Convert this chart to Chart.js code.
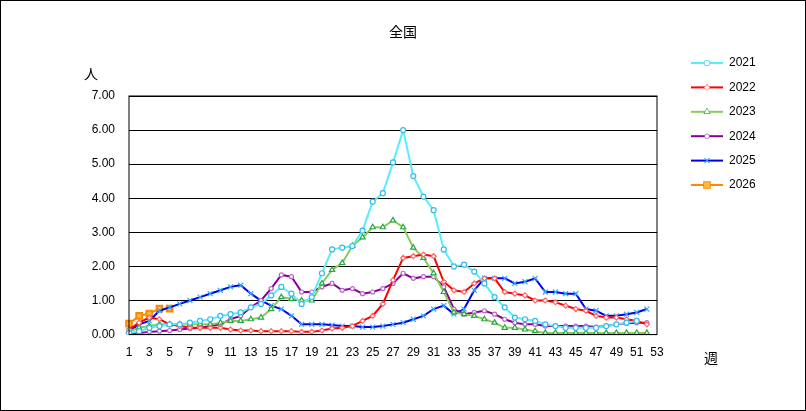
<!DOCTYPE html>
<html><head><meta charset="utf-8">
<script src="https://cdn.jsdelivr.net/npm/chart.js@4"></script>
<style>body{margin:0;background:#fff}#w{width:804px;height:409px;border:1px solid #000;position:relative}</style>
</head><body><div id="w"><canvas id="c" width="804" height="409"></canvas></div>
<script>
const weeks = Array.from({length:53},(_,i)=>String(i+1));
const s2021 = [0.05,0.1,0.2,0.25,0.3,0.3,0.35,0.4,0.45,0.55,0.6,0.65,0.8,0.9,1.15,1.4,1.2,0.9,1.1,1.8,2.5,2.55,2.6,3.05,3.9,4.15,5.05,6.0,4.65,4.05,3.65,2.5,2.0,2.05,1.85,1.5,1.1,0.8,0.5,0.45,0.4,0.3,0.25,0.2,0.2,0.2,0.2,0.25,0.3,0.35,0.4];
const s2022 = [0.15,0.35,0.5,0.45,0.3,0.25,0.2,0.2,0.2,0.2,0.15,0.12,0.12,0.1,0.1,0.1,0.1,0.08,0.08,0.12,0.18,0.2,0.25,0.4,0.55,0.9,1.6,2.25,2.3,2.35,2.3,1.55,1.3,1.25,1.5,1.65,1.65,1.25,1.2,1.15,1.0,1.0,0.95,0.85,0.75,0.7,0.55,0.5,0.5,0.45,0.4,0.3];
const s2023 = [0.1,0.2,0.25,0.3,0.3,0.3,0.3,0.3,0.3,0.35,0.4,0.4,0.45,0.5,0.75,1.1,1.05,1.0,1.0,1.5,1.9,2.1,2.6,2.85,3.15,3.15,3.35,3.15,2.55,2.25,1.8,1.25,0.65,0.6,0.55,0.45,0.35,0.2,0.2,0.15,0.1,0.05,0.05,0.05,0.05,0.05,0.05,0.05,0.05,0.05,0.05,0.05];
const s2024 = [0.02,0.05,0.08,0.1,0.12,0.15,0.18,0.2,0.25,0.3,0.45,0.55,0.8,1.0,1.35,1.75,1.7,1.25,1.25,1.4,1.5,1.3,1.35,1.2,1.25,1.35,1.5,1.8,1.65,1.7,1.7,1.4,0.75,0.6,0.65,0.7,0.6,0.45,0.35,0.3,0.3,0.25,0.25,0.25,0.25,0.25,0.22,0.25,0.3,0.33,0.35,0.35];
const s2025 = [0.1,0.3,0.4,0.7,0.8,0.9,1.0,1.1,1.2,1.3,1.4,1.45,1.2,1.0,0.85,0.75,0.55,0.3,0.3,0.3,0.28,0.25,0.25,0.22,0.22,0.25,0.3,0.35,0.45,0.55,0.75,0.85,0.6,0.75,1.3,1.65,1.65,1.65,1.5,1.55,1.65,1.25,1.25,1.2,1.2,0.75,0.7,0.55,0.55,0.6,0.65,0.75];
const s2026 = [0.32,0.55,0.62,0.76,0.76];
const yTicks = [0,1,2,3,4,5,6,7];

const defs = [
 ['2021',s2021,'#55eeff','#33bbee','circle',2.5],
 ['2022',s2022,'#ff0000','#ff6666','rectRot',2.5],
 ['2023',s2023,'#88cc55','#22aa44','triangle',3],
 ['2024',s2024,'#880099','#bb66cc','circle',2],
 ['2025',s2025,'#0000ee','#33aaff','crossRot',3.5],
 ['2026',s2026,'#ff8800','#ff8800','rect',4]
];
const datasets = defs.map(d=>({label:d[0],data:d[1],borderColor:d[2],backgroundColor:d[0]==='2026'?'#ffbb44':'#fff',
  pointBorderColor:d[3],pointStyle:d[4],pointRadius:d[5],pointBorderWidth:d[0]==='2026'?2:1.2,borderWidth:2,tension:0}));

const deco = {id:'deco',afterDraw(ch){
  const c=ch.ctx; c.save();
  c.fillStyle='#000'; c.font='14px "Noto Sans CJK JP"'; c.textAlign='center';
  c.fillText('全国',402,36); c.fillText('人',90,78); c.fillText('週',710,362);
  const a=ch.chartArea; c.strokeStyle='#000'; c.lineWidth=1; c.strokeRect(a.left,a.top,a.right-a.left,a.bottom-a.top);
  c.font='12px Arial'; c.textAlign='left'; c.textBaseline='middle';
  ch.data.datasets.forEach((ds,i)=>{
    const y=62+i*24.4; c.strokeStyle=ds.borderColor; c.lineWidth=2;
    c.beginPath(); c.moveTo(690,y); c.lineTo(722,y); c.stroke();
    c.fillStyle='#000'; c.fillText(ds.label,728,y);
    const st=ds.pointStyle; c.lineWidth=ds.pointBorderWidth;
    c.strokeStyle=ds.pointBorderColor; c.fillStyle=ds.backgroundColor;
    Chart.helpers.drawPoint(c,{pointStyle:st,radius:ds.pointRadius,borderWidth:ds.pointBorderWidth,rotation:0},706,y);
    c.fill(); 
  });
  c.restore();
}};

new Chart(document.getElementById('c'),{type:'line',data:{labels:weeks,datasets},
 options:{responsive:false,animation:false,
  layout:{padding:{left:0,right:148,top:95,bottom:47}},
  plugins:{legend:{display:false},tooltip:{enabled:false}},
  scales:{
   x:{offset:false,grid:{display:false},border:{display:false},
      ticks:{autoSkip:false,maxRotation:0,color:'#000',font:{size:12,family:'Arial'},callback:(v,i)=>i%2===0?weeks[i]:''}},
   y:{min:0,max:7,afterBuildTicks:s=>{s.ticks=yTicks.map(v=>({value:v}))},afterFit:s=>{s.width=128},
      grid:{color:'#000',borderDash:[3,2],drawTicks:false},border:{display:false},
      ticks:{color:'#000',padding:14,font:{size:12,family:'Arial'},callback:v=>v.toFixed(2)}}
  }},plugins:[deco]});
</script></body></html>
